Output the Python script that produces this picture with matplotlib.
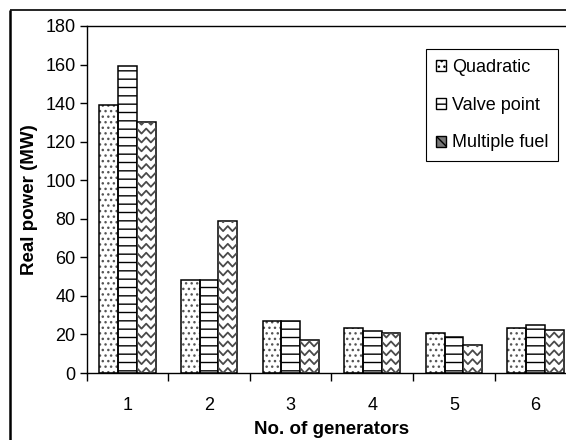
import matplotlib
matplotlib.use("Agg")
import matplotlib.pyplot as plt
from matplotlib.lines import Line2D
from matplotlib.patches import Patch
import numpy as np

plt.rcParams['font.family'] = ['Liberation Sans', 'DejaVu Sans']
plt.rcParams['hatch.linewidth'] = 1.0

# Real power dispatched per generator for each cost model (MW)
generators = ["1", "2", "3", "4", "5", "6"]
quadratic = [139, 48, 27, 23.5, 21, 23.5]
valve_point = [159, 48, 27, 21.8, 18.5, 25]
multiple_fuel = [130, 79, 17, 21, 14.3, 22.5]
series_names = ["Quadratic", "Valve point", "Multiple fuel"]
y_ticks = [0, 20, 40, 60, 80, 100, 120, 140, 160, 180]

W, H = 566, 440
fig = plt.figure(figsize=(W / 100, H / 100), dpi=100)
fig.patch.set_facecolor("white")

# Outer chart frame (left and top edges)
fig.add_artist(Line2D([10 / W, 10 / W], [-0.05, 1 - 10 / H], transform=fig.transFigure,
                      color="black", lw=1.8, solid_capstyle="butt"))
fig.add_artist(Line2D([10 / W, 1.05], [1 - 10 / H, 1 - 10 / H], transform=fig.transFigure,
                      color="black", lw=1.2, solid_capstyle="butt"))

ax_left, ax_right = 86.7 / W, 576.3 / W
ax_bottom, ax_top = 1 - 373 / H, 1 - 26 / H
ax = fig.add_axes([ax_left, ax_bottom, ax_right - ax_left, ax_top - ax_bottom])

x = np.arange(1, len(generators) + 1)
bw = 0.229

# Dotted fill drawn in grey underneath a black outline
ax.bar(x - bw, quadratic, bw, facecolor="white", edgecolor="#555555",
       linewidth=0, hatch="...", zorder=2)
bars_q = ax.bar(x - bw, quadratic, bw, facecolor="none", edgecolor="black",
                linewidth=1.1, zorder=3)
bars_v = ax.bar(x, valve_point, bw, facecolor="white", edgecolor="black",
                linewidth=1.1, hatch="--", zorder=2)
bars_m = ax.bar(x + bw, multiple_fuel, bw, facecolor="white", edgecolor="black",
                linewidth=1.1, zorder=2)

# Zig-zag fill pattern for the multiple fuel bars
period_y = 4.6
amp = 2.6
for b in bars_m:
    x0, w, h = b.get_x(), b.get_width(), b.get_height()
    xs = x0 + np.arange(0, 5) * w / 4
    yb = -period_y
    while yb < h + period_y:
        ys = np.array([yb + amp, yb, yb + amp, yb, yb + amp])
        ln = Line2D(xs, ys, color="#4a4a4a", lw=1.3, zorder=2.5)
        ax.add_line(ln)
        ln.set_clip_path(b)
        yb += period_y

ax.set_xlim(0.5, 6.5)
ax.set_ylim(0, 180)
ax.set_yticks(y_ticks)
ax.set_yticklabels([str(t) for t in y_ticks])
ax.set_xticks(x)
ax.set_xticklabels(generators)
ax.set_xticks(np.arange(0.5, 7.0, 1.0), minor=True)

ax.tick_params(axis="y", which="major", direction="out", length=5, width=1,
               labelsize=13, pad=3)
ax.tick_params(axis="x", which="major", length=0, labelsize=13, pad=17)
ax.tick_params(axis="x", which="minor", direction="out", length=6, width=1)

for side in ["left", "bottom", "top", "right"]:
    ax.spines[side].set_color("black")
    ax.spines[side].set_linewidth(1.0)

ax.set_xlabel("No. of generators", fontsize=13.5, fontweight="bold", labelpad=5)
ax.set_ylabel("Real power (MW)", fontsize=13.5, fontweight="bold", labelpad=5)

handles = [
    Patch(facecolor="white", edgecolor="black", hatch="...", linewidth=1.0),
    Patch(facecolor="white", edgecolor="black", hatch="--", linewidth=1.0),
    Patch(facecolor="#777777", edgecolor="black", hatch="\\\\\\", linewidth=1.0),
]
leg = fig.legend(handles, series_names, loc="upper left",
                 bbox_to_anchor=(425.7 / W, 1 - 49 / H), fontsize=13,
                 frameon=True, fancybox=False, edgecolor="black", framealpha=1,
                 handlelength=0.55, handleheight=0.55, handletextpad=0.35,
                 labelspacing=1.15, borderpad=0.55, borderaxespad=0)
leg.get_frame().set_linewidth(0.8)

fig.savefig("out.png", dpi=100)
